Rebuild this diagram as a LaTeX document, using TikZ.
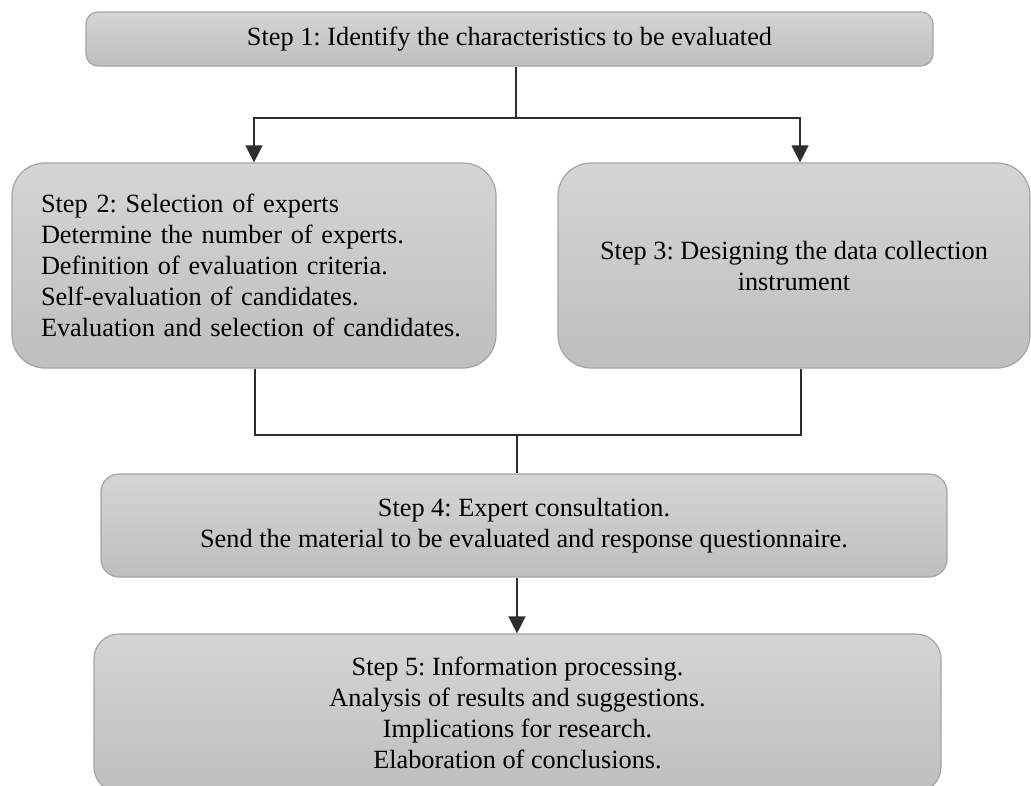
\documentclass[tikz,border=0pt]{standalone}
\usepackage{fontspec}
\setmainfont{Liberation Serif}
\usetikzlibrary{arrows.meta}
\definecolor{boxtop}{HTML}{D5D5D5}
\definecolor{boxbot}{HTML}{BEBEBE}
\definecolor{boxedge}{HTML}{A4A4A4}
\definecolor{linkc}{HTML}{2E2E2E}
\tikzset{
  stepbox/.style={draw=boxedge, line width=1.2pt, top color=boxtop, bottom color=boxbot,
    font=\fontsize{26.3}{31}\selectfont\frenchspacing, align=center, inner sep=0pt},
  link/.style={draw=linkc, line width=1.4pt},
  flow/.style={link, -{Triangle[length=17pt,width=17pt]}}
}
\begin{document}
\begin{tikzpicture}[x=1pt,y=-1pt]
\useasboundingbox (0,0) rectangle (1031,785);

\node[stepbox, rounded corners=12pt, minimum width=847pt, minimum height=54pt]
  (s1) at (509.5,39) {Step 1: Identify the characteristics to be evaluated};

\node[stepbox, rounded corners=33pt, minimum height=205pt, text width=426pt,
  inner xsep=29pt, align=left]
  (s2) at (254,265.5) {Step 2: Selection of experts\\
  Determine the number of experts.\\
  Definition of evaluation criteria.\\
  Self-evaluation of candidates.\\
  Evaluation and selection of candidates.};

\node[stepbox, rounded corners=33pt, minimum width=472pt, minimum height=205pt]
  (s3) at (794,265.5) {Step 3: Designing the data collection\\instrument};

\node[stepbox, rounded corners=18pt, minimum width=846pt, minimum height=103pt]
  (s4) at (524,525.5) {Step 4: Expert consultation.\\
  Send the material to be evaluated and response questionnaire.};

\node[stepbox, rounded corners=25pt, minimum width=847pt, minimum height=158pt]
  (s5) at (517.5,713) {Step 5: Information processing.\\
  Analysis of results and suggestions.\\
  Implications for research.\\
  Elaboration of conclusions.};

% branching from step 1
\coordinate (j1) at (516,118);
\draw[link] (j1 |- s1.south) -- (j1);
\draw[flow] (j1) -| (s2.north);
\draw[flow] (j1) -| ([xshift=6pt]s3.north);

% merging into step 4
\coordinate (j2) at (517,435);
\draw[link] ([xshift=1pt]s2.south) |- (j2) -| ([xshift=7pt]s3.south);
\draw[link] (j2) -- (j2 |- s4.north);

% step 4 to step 5
\draw[flow] (j2 |- s4.south) -- (j2 |- s5.north);
\end{tikzpicture}
\end{document}
